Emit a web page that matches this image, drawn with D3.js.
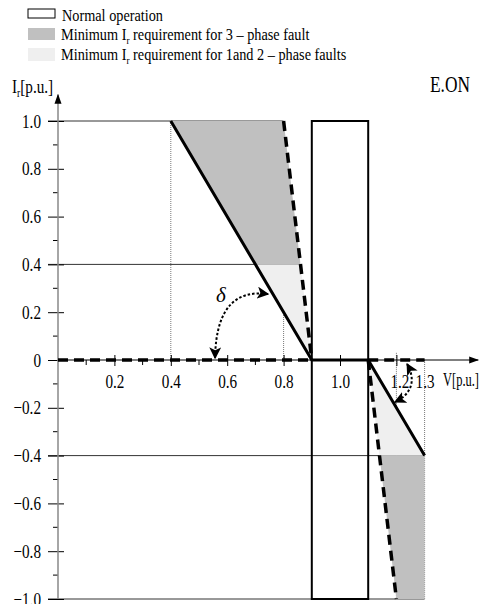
<!DOCTYPE html>
<html>
<head>
<meta charset="utf-8">
<script src="https://cdn.jsdelivr.net/npm/d3@7"></script>
<style>
  body { margin: 0; background: #fff; }
  svg { display: block; font-family: "Liberation Serif", "Times New Roman", Times, serif; }
</style>
</head>
<body>
<div id="chart"></div>
<script>
// ---- data (V in p.u., I_r in p.u.) ----
var vTicks = [0.2, 0.4, 0.6, 0.8, 1.0, 1.2, 1.3];
var vMinor = [0.1, 0.3, 0.5, 0.7];
var iTicks = [1.0, 0.8, 0.6, 0.4, 0.2, 0, -0.2, -0.4, -0.6, -0.8, -1.0];
var iMinor = [0.9, 0.7, 0.5, 0.3, 0.1, -0.1, -0.3, -0.5, -0.7, -0.9];

var normalBand = [0.9, 1.1];          // normal operation voltage band
var normalLimits = [-1.0, 1.0];

// solid = minimum I_r for 3-phase fault, dashed = for 1 and 2-phase faults
var solidLine = [[0.4, 1.0], [0.9, 0], [1.1, 0], [1.3, -0.4]];
var dashedLine = [[0.8, 1.0], [0.9, 0]];
var dashedLineLow = [[1.1, 0], [1.2, -1.0]];
var zeroDashLeft = [[0, 0], [0.9, 0]];
var zeroDashRight = [[1.1, 0], [1.3, 0]];

var threePhaseAreas = [
  [[0.4, 1.0], [0.8, 1.0], [0.86, 0.4], [0.7, 0.4]],
  [[1.14, -0.4], [1.3, -0.4], [1.3, -1.0], [1.2, -1.0]]
];
var onePhaseAreas = [
  [[0.7, 0.4], [0.86, 0.4], [0.9, 0]],
  [[1.1, 0], [1.3, -0.4], [1.14, -0.4]]
];

var hGrid = [[1.0, 0, 0.8], [0.4, 0, 0.86], [-0.4, 0, 1.3], [-1.0, 0, 1.3]];   // [I, V from, V to]
var vGrid = [[0.4, 0, 1.0], [0.8, 0, 1.0], [1.2, 0.03, -1.0], [1.3, 0, -1.0]]; // [V, I from, I to]

// curved angle arrows: start, control 1, control 2, end
var angleArcs = [
  [[0.745, 0.276], [0.638, 0.293], [0.56, 0.23], [0.557, 0.008]],
  [[1.238, -0.017], [1.27, -0.084], [1.255, -0.142], [1.195, -0.176]]
];
var deltaPos = [0.578, 0.243];

var legendItems = ["Normal operation", "3", "1and 2"];

// ---- chart ----
var svgWidth = 486;
var svgHeight = 604;

var svg = d3.select("#chart")
  .append("svg")
  .attr("width", svgWidth)
  .attr("height", svgHeight);

var x = d3.scaleLinear().domain([0, 1]).range([58, 340]);
var y = d3.scaleLinear().domain([0, 1]).range([360, 121]);

var defs = svg.append("defs");
defs.append("marker")
  .attr("id", "arrow")
  .attr("viewBox", "0 0 10 10")
  .attr("refX", 9).attr("refY", 5)
  .attr("markerWidth", 10).attr("markerHeight", 10)
  .attr("markerUnits", "userSpaceOnUse")
  .attr("orient", "auto-start-reverse")
  .append("path")
  .attr("d", "M0,1.5L10,5L0,8.5Z")
  .attr("fill", "#000");
defs.append("marker")
  .attr("id", "arcArrow")
  .attr("viewBox", "0 0 10 10")
  .attr("refX", 9).attr("refY", 5)
  .attr("markerWidth", 12).attr("markerHeight", 12)
  .attr("markerUnits", "userSpaceOnUse")
  .attr("orient", "auto-start-reverse")
  .append("path")
  .attr("d", "M0,0L10,5L0,10L2.5,5Z")
  .attr("fill", "#000");

var line = d3.line().x(d => x(d[0])).y(d => y(d[1]));

// grid lines
svg.append("g").selectAll("line")
  .data(hGrid)
  .enter()
  .append("line")
  .attr("x1", d => x(d[1]) - 10)
  .attr("x2", d => x(d[2]))
  .attr("y1", d => y(d[0]))
  .attr("y2", d => y(d[0]))
  .attr("stroke", "#333")
  .attr("stroke-width", 1);

svg.append("g").selectAll("line")
  .data(vGrid)
  .enter()
  .append("line")
  .attr("x1", d => x(d[0]))
  .attr("x2", d => x(d[0]))
  .attr("y1", d => y(d[1]))
  .attr("y2", d => y(d[2]))
  .attr("stroke", "#555")
  .attr("stroke-width", 0.8)
  .attr("stroke-dasharray", "1,1");

// filled areas
svg.append("g").selectAll("path")
  .data(threePhaseAreas)
  .enter()
  .append("path")
  .attr("d", d => line(d) + "Z")
  .attr("fill", "#c0c0c0");

svg.append("g").selectAll("path")
  .data(onePhaseAreas)
  .enter()
  .append("path")
  .attr("d", d => line(d) + "Z")
  .attr("fill", "#efefef");

// normal operation box
svg.append("rect")
  .attr("x", x(normalBand[0]))
  .attr("y", y(normalLimits[1]))
  .attr("width", x(normalBand[1]) - x(normalBand[0]))
  .attr("height", y(normalLimits[0]) - y(normalLimits[1]))
  .attr("fill", "none")
  .attr("stroke", "#000")
  .attr("stroke-width", 2);

// axes
var fmt = d => d === 0 ? "0" : (d < 0 ? "\u2212" : "") + Math.abs(d).toFixed(1);
var serif = "Liberation Serif, Times New Roman, serif";

var yAxis = svg.append("g")
  .attr("transform", `translate(${x(0)},0)`)
  .call(d3.axisLeft(y).tickValues(iTicks).tickSize(10).tickPadding(7).tickFormat(fmt));
yAxis.attr("font-family", serif);
yAxis.select(".domain").remove();
yAxis.selectAll(".tick line").attr("x1", 6).attr("stroke", "#000");
yAxis.selectAll(".tick text")
  .attr("font-size", 19)
  .attr("fill", "#000")
  .attr("transform", "scale(0.8,1)")
  .attr("x", -17 / 0.8);

svg.append("g").selectAll("line")
  .data(iMinor)
  .enter()
  .append("line")
  .attr("x1", x(0) - 5)
  .attr("x2", x(0))
  .attr("y1", d => y(d))
  .attr("y2", d => y(d))
  .attr("stroke", "#000");

var xAxis = svg.append("g")
  .attr("transform", `translate(0,${y(0)})`)
  .call(d3.axisBottom(x).tickValues(vTicks).tickSize(6).tickPadding(9)
    .tickFormat(d => d.toFixed(1)));
xAxis.attr("font-family", serif);
xAxis.select(".domain").remove();
xAxis.selectAll(".tick line")
  .attr("y1", -5)
  .attr("stroke", "#000")
  .attr("display", d => d === 1.3 ? "none" : null);
xAxis.selectAll(".tick text")
  .attr("font-size", 19)
  .attr("fill", "#000")
  .attr("transform", d => d === 1.2 ? "translate(3,0) scale(0.8,1)" : "scale(0.8,1)");

svg.append("g").selectAll("line")
  .data(vMinor)
  .enter()
  .append("line")
  .attr("x1", d => x(d))
  .attr("x2", d => x(d))
  .attr("y1", y(0))
  .attr("y2", y(0) + 5)
  .attr("stroke", "#000");

svg.append("line")
  .attr("x1", x(0)).attr("x2", x(0))
  .attr("y1", y(-1.0)).attr("y2", y(1.11))
  .attr("stroke", "#888")
  .attr("stroke-width", 1.5)
  .attr("marker-end", "url(#arrow)");

svg.append("line")
  .attr("x1", x(0)).attr("x2", x(1.49))
  .attr("y1", y(0)).attr("y2", y(0))
  .attr("stroke", "#000")
  .attr("stroke-width", 1)
  .attr("marker-end", "url(#arrow)");

// characteristic lines
[zeroDashLeft, zeroDashRight, dashedLine, dashedLineLow].forEach(function (pts) {
  svg.append("path")
    .attr("d", line(pts))
    .attr("fill", "none")
    .attr("stroke", "#000")
    .attr("stroke-width", 3.5)
    .attr("stroke-dasharray", "10,6");
});

svg.append("path")
  .attr("d", line(solidLine))
  .attr("fill", "none")
  .attr("stroke", "#000")
  .attr("stroke-width", 3)
  .attr("stroke-linejoin", "miter");

// angle arrows
svg.append("g").selectAll("path")
  .data(angleArcs)
  .enter()
  .append("path")
  .attr("d", d => `M${x(d[0][0])},${y(d[0][1])}C${x(d[1][0])},${y(d[1][1])} ${x(d[2][0])},${y(d[2][1])} ${x(d[3][0])},${y(d[3][1])}`)
  .attr("fill", "none")
  .attr("stroke", "#000")
  .attr("stroke-width", 2)
  .attr("stroke-dasharray", "2.5,2")
  .attr("marker-start", "url(#arcArrow)")
  .attr("marker-end", "url(#arcArrow)");

svg.append("text")
  .attr("transform", `translate(${x(deltaPos[0])},${y(deltaPos[1])})`)
  .attr("font-size", 21)
  .attr("font-style", "italic")
  .attr("text-anchor", "middle")
  .text("\u03b4");

// axis titles
var yTitle = svg.append("text")
  .attr("transform", "translate(12,93) scale(0.8,1)")
  .attr("font-size", 19);
yTitle.append("tspan").text("I");
yTitle.append("tspan").attr("font-size", 12).attr("dy", 4).text("r");
yTitle.append("tspan").attr("dy", -4).text("[p.u.]");

svg.append("text")
  .attr("x", 443).attr("y", 386)
  .attr("font-size", 19)
  .attr("textLength", 36).attr("lengthAdjust", "spacingAndGlyphs")
  .text("V[p.u.]");

svg.append("text")
  .attr("x", 430).attr("y", 92)
  .attr("font-size", 23)
  .attr("textLength", 40).attr("lengthAdjust", "spacingAndGlyphs")
  .text("E.ON");

// legend
var legend = svg.append("g");
legend.append("rect")
  .attr("x", 28).attr("y", 9).attr("width", 27).attr("height", 9)
  .attr("fill", "#fff").attr("stroke", "#000").attr("stroke-width", 1);
legend.append("rect")
  .attr("x", 28).attr("y", 28).attr("width", 27).attr("height", 12)
  .attr("fill", "#c0c0c0");
legend.append("rect")
  .attr("x", 28).attr("y", 48).attr("width", 27).attr("height", 13)
  .attr("fill", "#efefef");

legend.append("text")
  .attr("x", 62).attr("y", 21)
  .attr("font-size", 17)
  .attr("textLength", 101).attr("lengthAdjust", "spacingAndGlyphs")
  .text(legendItems[0]);

function reqLegend(yPos, what, plural) {
  var t = legend.append("text")
    .attr("transform", `translate(61,${yPos}) scale(0.84,1)`)
    .attr("font-size", 17);
  t.append("tspan").text("Minimum I");
  t.append("tspan").attr("font-size", 11).attr("dy", 4).text("r");
  t.append("tspan").attr("dy", -4).text(` requirement for ${what} \u2013 phase ${plural}`);
}
reqLegend(40, legendItems[1], "fault");
reqLegend(60, legendItems[2], "faults");
</script>
</body>
</html>
